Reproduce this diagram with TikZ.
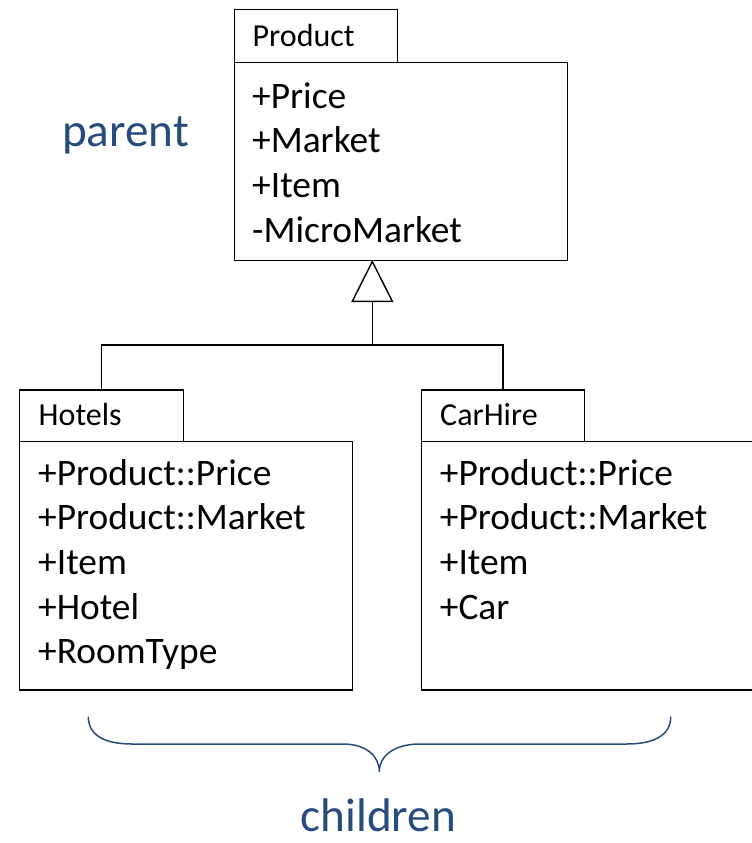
\documentclass[tikz,border=0pt]{standalone}
\usepackage{fontspec}
\setmainfont{Carlito}
\usetikzlibrary{arrows.meta,calc}
\definecolor{lblue}{RGB}{38,76,126}
\tikzset{
  umlbox/.style={draw=black, line width=1.4pt, rectangle, inner sep=0pt, anchor=north west},
  tabtext/.style={anchor=base west, inner sep=0pt, font=\fontsize{32}{32}\selectfont},
  attr/.style={anchor=base west, inner sep=0pt, font=\fontsize{37.4}{37.4}\selectfont},
  lbl/.style={anchor=base west, inner sep=0pt, text=lblue, font=\fontsize{47.2}{47.2}\selectfont},
  conn/.style={draw=black, line width=1.4pt},
  bracepath/.style={draw=lblue, line width=1.5pt}
}
\begin{document}
\begin{tikzpicture}[x=1pt,y=-1pt]
\useasboundingbox (0,0) rectangle (752,843);
\clip (0,0) rectangle (752,843);
% Product
\node[umlbox, minimum width=163pt, minimum height=53pt] (ptab) at (234,9) {};
\node[umlbox, minimum width=333pt, minimum height=198pt] (pbody) at (234,62) {};
\node[tabtext] (ptabt) at (252.5,46.7) {Product};
\node[attr] (p1) at (252,108) {+Price};
\node[attr] (p2) at (252,152.7) {+Market};
\node[attr] (p3) at (252,197.4) {+Item};
\node[attr] (p4) at (252,242) {-MicroMarket};
% Hotels
\node[umlbox, minimum width=164pt, minimum height=51.5pt] (htab) at (19,389.3) {};
\node[umlbox, minimum width=332.7pt, minimum height=248.6pt] (hbody) at (19,440.7) {};
\node[tabtext] (htabt) at (38.5,425) {Hotels};
\node[attr] (h1) at (38,485) {+Product::Price};
\node[attr] (h2) at (38,529.7) {+Product::Market};
\node[attr] (h3) at (38,574.4) {+Item};
\node[attr] (h4) at (38,619) {+Hotel};
\node[attr] (h5) at (38,663.8) {+RoomType};
% CarHire
\node[umlbox, minimum width=163.3pt, minimum height=51.5pt] (ctab) at (420.7,389.3) {};
\node[umlbox, minimum width=345pt, minimum height=248.6pt] (cbody) at (420.7,440.7) {};
\node[tabtext] (ctabt) at (440,425) {CarHire};
\node[attr] (c1) at (439.7,485) {+Product::Price};
\node[attr] (c2) at (439.7,529.7) {+Product::Market};
\node[attr] (c3) at (439.7,574.4) {+Item};
\node[attr] (c4) at (439.7,619) {+Car};
% inheritance connector
\coordinate (joint) at (372.3,345);
\coordinate (apex) at (372.3,260);
\draw[conn, -{Triangle[open, length=42pt, width=42pt, line width=1.4pt]}] (joint) -- (apex);
\draw[conn] (htab.north) |- (joint) -| (ctab.north);
% labels
\node[lbl] (parent) at (62,146) {parent};
\node[lbl] (children) at (300.5,831) {children};
% brace
\draw[bracepath] (88.3,716.7) .. controls (88.3,736) and (106,744) .. (131.7,744)
  -- (343,744) .. controls (366,744) and (379.3,756) .. (379.3,771.7)
  .. controls (379.3,756) and (394,744) .. (420,744)
  -- (626.7,744) .. controls (653,744) and (670.7,736) .. (670.7,716.7);
\end{tikzpicture}
\end{document}
